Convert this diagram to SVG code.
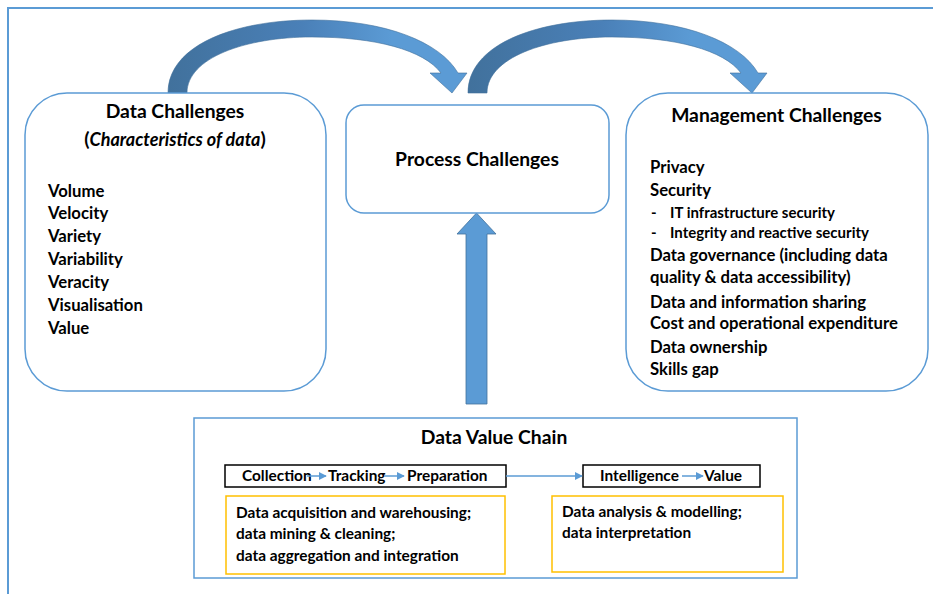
<svg xmlns="http://www.w3.org/2000/svg" width="933" height="594" viewBox="0 0 933 594">
<style>
text{font-family:Lato,"Open Sans","Liberation Sans",sans-serif;font-weight:bold;fill:#000}
.t18{font-size:19.3px}
.t16{font-size:16.7px}
.t14{font-size:15px}
.t15{font-size:15.4px}
.box{fill:#fff;stroke:#5B9BD5;stroke-width:1.5}
.frame{fill:none;stroke:#5B9BD5;stroke-width:2}
.blk{fill:#fff;stroke:#000;stroke-width:1.5}
.org{fill:#fff;stroke:#FFC000;stroke-width:1.5}
.thin{stroke:#5B9BD5;stroke-width:1.5;fill:none}
</style>
<defs>
<linearGradient id="cg" x1="0" y1="0" x2="1" y2="0">
<stop offset="0" stop-color="#41719C"/>
<stop offset="0.45" stop-color="#4A80B8"/>
<stop offset="0.75" stop-color="#5B9BD5"/>
<stop offset="1" stop-color="#5B9BD5"/>
</linearGradient>
<marker id="ah" viewBox="0 0 10 10" refX="9" refY="5" markerWidth="5.5" markerHeight="5.5" orient="auto" markerUnits="strokeWidth">
<path d="M0,0 L10,5 L0,10 Z" fill="#5B9BD5"/>
</marker>
<path id="curv" d="M168,93 C168,45 235,20 312,20 C385,20 440,42 458,73 L467,73 L452,93 L430,73 L441,73 C424,50 375,37 312,37 C245,37 187,58 187,93 Z" fill="url(#cg)" stroke="#41719C" stroke-width="0.6"/>
</defs>
<rect width="933" height="594" fill="#fff"/>
<path class="frame" d="M8,594 L8,8 L933,8"/>

<g id="connectors">
<use href="#curv"/>
<use href="#curv" transform="translate(300,0)"/>
<path d="M466,404 L466,234 L457,234 L476.5,213 L496,234 L487,234 L487,404 Z" fill="#5B9BD5" stroke="#41719C" stroke-width="0.8"/>
</g>

<g id="data-challenges">
<rect class="box" x="25" y="93" width="301" height="298" rx="42"/>
<text class="t18" x="175" y="118" text-anchor="middle">Data Challenges</text>
<text class="t18" x="175" y="146" text-anchor="middle">(<tspan font-style="italic" font-size="18px">Characteristics of data</tspan>)</text>
<text class="t16" x="48" y="197">Volume</text>
<text class="t16" x="48" y="219">Velocity</text>
<text class="t16" x="48" y="242">Variety</text>
<text class="t16" x="48" y="265">Variability</text>
<text class="t16" x="48" y="288">Veracity</text>
<text class="t16" x="48" y="311">Visualisation</text>
<text class="t16" x="48" y="334">Value</text>
</g>

<g id="process-challenges">
<rect class="box" x="346" y="105" width="263" height="108" rx="18"/>
<text class="t18" x="477" y="166" text-anchor="middle">Process Challenges</text>
</g>

<g id="management-challenges">
<rect class="box" x="626" y="93" width="302" height="298" rx="42"/>
<text class="t18" x="776.5" y="122" text-anchor="middle">Management Challenges</text>
<text class="t16" x="650" y="173">Privacy</text>
<text class="t16" x="650" y="196">Security</text>
<text class="t14" x="651" y="218">-</text>
<text class="t14" x="670" y="218">IT infrastructure security</text>
<text class="t14" x="651" y="238">-</text>
<text class="t14" x="670" y="238">Integrity and reactive security</text>
<text class="t16" x="650" y="261">Data governance (including data</text>
<text class="t16" x="650" y="283">quality &amp; data accessibility)</text>
<text class="t16" x="650" y="308">Data and information sharing</text>
<text class="t16" x="650" y="329">Cost and operational expenditure</text>
<text class="t16" x="650" y="353">Data ownership</text>
<text class="t16" x="650" y="375">Skills gap</text>
</g>

<g id="data-value-chain">
<rect x="194" y="418" width="603" height="160" fill="#fff" stroke="#5B9BD5" stroke-width="1.5"/>
<text class="t18" x="494" y="444" text-anchor="middle">Data Value Chain</text>
</g>

<g id="chain-box-1">
<rect class="blk" x="225" y="465" width="281" height="22"/>
<text class="t15" x="242" y="481">Collection</text>
<text class="t15" x="328" y="481">Tracking</text>
<text class="t15" x="407" y="481">Preparation</text>
</g>

<g id="chain-box-2">
<rect class="blk" x="583" y="465" width="177" height="22"/>
<text class="t15" x="600" y="481">Intelligence</text>
<text class="t15" x="704" y="481">Value</text>
</g>

<g id="activities-1">
<rect class="org" x="226" y="496" width="279" height="78"/>
<text class="t15" x="236" y="518">Data acquisition and warehousing;</text>
<text class="t15" x="236" y="539">data mining &amp; cleaning;</text>
<text class="t15" x="236" y="561">data aggregation and integration</text>
</g>

<g id="activities-2">
<rect class="org" x="552" y="496" width="231" height="76"/>
<text class="t15" x="562" y="517">Data analysis &amp; modelling;</text>
<text class="t15" x="562" y="538">data interpretation</text>
</g>

<g id="chain-connectors">
<line class="thin" x1="307" y1="476" x2="326" y2="476" marker-end="url(#ah)"/>
<line class="thin" x1="384" y1="476" x2="404" y2="476" marker-end="url(#ah)"/>
<line class="thin" x1="506" y1="476" x2="582" y2="476" marker-end="url(#ah)"/>
<line class="thin" x1="682" y1="476" x2="703" y2="476" marker-end="url(#ah)"/>
</g>
</svg>
